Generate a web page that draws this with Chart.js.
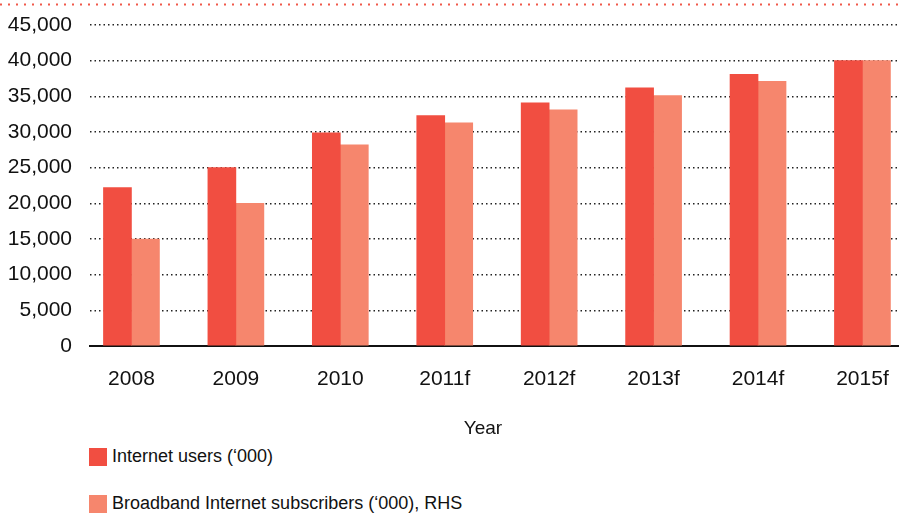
<!DOCTYPE html>
<html>
<head>
<meta charset="utf-8">
<script src="https://cdn.jsdelivr.net/npm/chart.js@4/dist/chart.umd.min.js"></script>
<style>
  html, body { margin: 0; padding: 0; background: #fff; overflow: hidden; }
  #wrap { position: relative; width: 899px; height: 515px; font-family: "Liberation Sans", Arial, sans-serif; color: #111; }
  #chart { position: absolute; left: 0; top: 0; }
  #xtitle { position: absolute; left: 433px; width: 100px; top: 416px; text-align: center; font-size: 19px; line-height: 24px; }
  #legend { position: absolute; left: 89px; top: 447px; font-size: 18px; }
  .item { display: flex; align-items: center; height: 19px; margin-bottom: 28px; }
  .box { width: 18px; height: 18px; margin-right: 5px; }
</style>
</head>
<body>
<div id="wrap">
  <canvas id="chart" width="899" height="445"></canvas>
  <div id="xtitle">Year</div>
  <div id="legend"></div>
</div>
<script>
// data
var years = ['2008', '2009', '2010', '2011f', '2012f', '2013f', '2014f', '2015f'];
var internetUsers = [22200, 25000, 29900, 32300, 34100, 36200, 38100, 40000];
var broadbandSubs = [15000, 20000, 28200, 31300, 33100, 35100, 37100, 40000];
var yTicks = [0, 5000, 10000, 15000, 20000, 25000, 30000, 35000, 40000, 45000];

var seriesNames = ["Internet users (\u2018000)", "Broadband Internet subscribers (\u2018000), RHS"];
var seriesColors = ['#f14e41', '#f6866d'];

function toPoints(arr) {
  return arr.map(function (v, i) { return { x: i, y: v }; });
}

// red dotted rule across the top
var topRule = {
  id: 'topRule',
  beforeDraw: function (chart) {
    var ctx = chart.ctx;
    ctx.save();
    ctx.strokeStyle = '#f0584a';
    ctx.lineWidth = 2;
    ctx.setLineDash([2, 6]);
    ctx.beginPath();
    ctx.moveTo(0, 4.5);
    ctx.lineTo(chart.width, 4.5);
    ctx.stroke();
    ctx.restore();
  }
};

var font = '"Liberation Sans", Arial, sans-serif';

var chart = new Chart(document.getElementById('chart'), {
  type: 'bar',
  data: {
    datasets: [
      { label: seriesNames[0], data: toPoints(internetUsers), backgroundColor: seriesColors[0] },
      { label: seriesNames[1], data: toPoints(broadbandSubs), backgroundColor: seriesColors[1] }
    ]
  },
  options: {
    responsive: false,
    animation: false,
    barThickness: 28,
    layout: { padding: { top: 25, left: 0, right: 0, bottom: 0 } },
    plugins: { legend: { display: false }, tooltip: { enabled: false } },
    scales: {
      x: {
        type: 'linear',
        offset: false,
        min: -0.397,
        max: 7.35,
        grid: { display: false, drawTicks: false },
        border: { display: true, color: '#111', width: 2 },
        ticks: {
          stepSize: 1,
          includeBounds: false,
          autoSkip: false,
          maxRotation: 0,
          padding: 21,
          color: '#111',
          font: { family: font, size: 21 },
          callback: function (v) { return years[v] !== undefined ? years[v] : ''; }
        },
        afterFit: function (s) { s.height = 99; s.paddingLeft = 0; s.paddingRight = 0; }
      },
      y: {
        min: 0,
        max: 45000,
        afterBuildTicks: function (s) { s.ticks = yTicks.map(function (v) { return { value: v }; }); },
        grid: { color: '#222', lineWidth: 1.6, drawTicks: false },
        border: { display: false, dash: [1.5, 3] },
        ticks: {
          padding: 18,
          color: '#111',
          font: { family: font, size: 21 },
          callback: function (v) { return v.toLocaleString('en-US'); }
        },
        afterFit: function (s) { s.width = 90; s.paddingTop = 0; s.paddingBottom = 0; }
      }
    }
  },
  plugins: [topRule]
});

// legend built from the datasets, stacked vertically
var legend = document.getElementById('legend');
chart.data.datasets.forEach(function (ds) {
  var row = document.createElement('div');
  row.className = 'item';
  var box = document.createElement('span');
  box.className = 'box';
  box.style.background = ds.backgroundColor;
  var txt = document.createElement('span');
  txt.textContent = ds.label;
  row.appendChild(box);
  row.appendChild(txt);
  legend.appendChild(row);
});
</script>
</body>
</html>
